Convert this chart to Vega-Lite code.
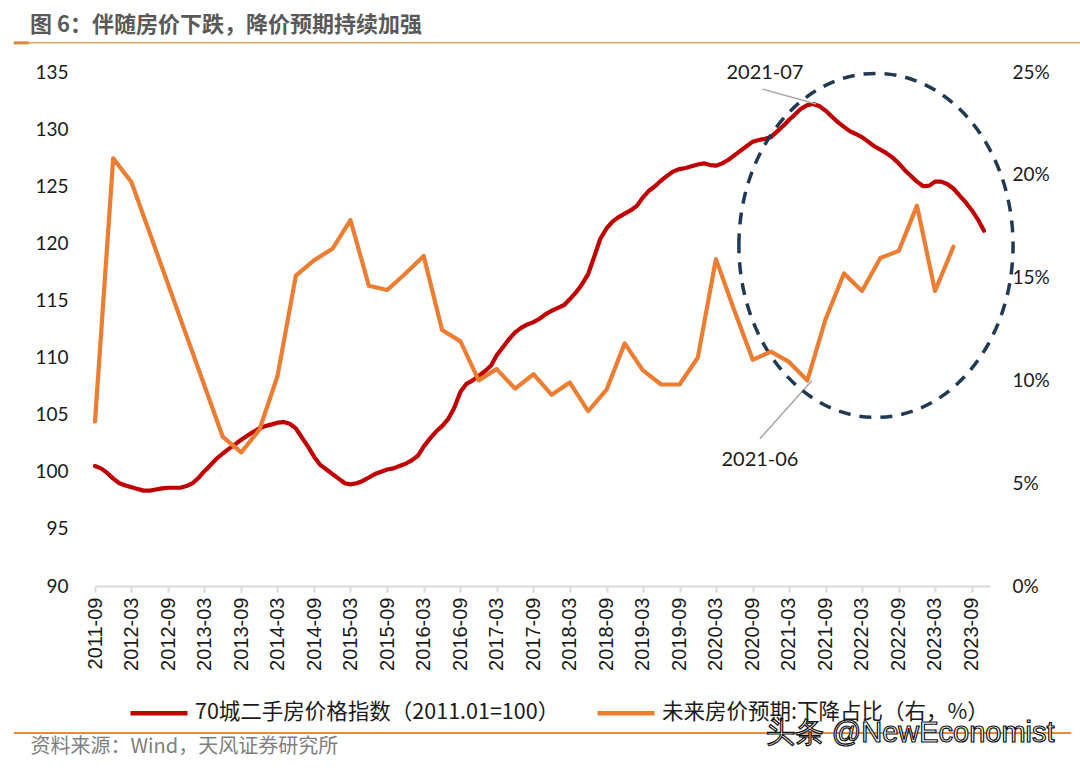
{
  "$schema": "https://vega.github.io/schema/vega-lite/v6.json",
  "width": 895,
  "height": 514,
  "autosize": {"type": "none"},
  "padding": {"left": 95, "top": 72, "right": 90, "bottom": 182},
  "background": "white",
  "title": {
    "text": "图 6：伴随房价下跌，降价预期持续加强",
    "anchor": "start",
    "frame": "group",
    "dx": -65,
    "offset": 4,
    "font": "Noto Sans CJK SC",
    "fontSize": 22,
    "fontWeight": "bold",
    "color": "#595959"
  },
  "config": {
    "view": {"stroke": null},
    "axis": {"grid": false},
    "axisX": {"labelOverlap": false, "labelBound": false, "labelFlush": false, "tickCount": 60},
    "legend": {
      "orient": "none",
      "legendX": 33,
      "legendY": 610,
      "direction": "horizontal",
      "symbolType": "stroke",
      "symbolSize": 3249,
      "symbolStrokeWidth": 4.5,
      "labelFont": "Noto Sans CJK SC",
      "labelFontSize": 21.5,
      "labelColor": "#1a1a1a",
      "labelLimit": 600,
      "labelOffset": 5,
      "columnPadding": 28,
      "padding": 0
    }
  },
  "datasets": {
    "red": [
      {"date": "2011-09-01", "value": 100.5}, {"date": "2011-10-01", "value": 100.3}, {"date": "2011-11-01", "value": 99.9}, {"date": "2011-12-01", "value": 99.4},
      {"date": "2012-01-01", "value": 99.0}, {"date": "2012-02-01", "value": 98.8}, {"date": "2012-03-01", "value": 98.65}, {"date": "2012-04-01", "value": 98.5},
      {"date": "2012-05-01", "value": 98.35}, {"date": "2012-06-01", "value": 98.35}, {"date": "2012-07-01", "value": 98.45}, {"date": "2012-08-01", "value": 98.55},
      {"date": "2012-09-01", "value": 98.6}, {"date": "2012-10-01", "value": 98.6}, {"date": "2012-11-01", "value": 98.6}, {"date": "2012-12-01", "value": 98.75},
      {"date": "2013-01-01", "value": 99.0}, {"date": "2013-02-01", "value": 99.5}, {"date": "2013-03-01", "value": 100.05}, {"date": "2013-04-01", "value": 100.6},
      {"date": "2013-05-01", "value": 101.15}, {"date": "2013-06-01", "value": 101.6}, {"date": "2013-07-01", "value": 102.0}, {"date": "2013-08-01", "value": 102.4},
      {"date": "2013-09-01", "value": 102.8}, {"date": "2013-10-01", "value": 103.15}, {"date": "2013-11-01", "value": 103.5}, {"date": "2013-12-01", "value": 103.8},
      {"date": "2014-01-01", "value": 104.0}, {"date": "2014-02-01", "value": 104.15}, {"date": "2014-03-01", "value": 104.3}, {"date": "2014-04-01", "value": 104.35},
      {"date": "2014-05-01", "value": 104.2}, {"date": "2014-06-01", "value": 103.8}, {"date": "2014-07-01", "value": 103.0}, {"date": "2014-08-01", "value": 102.2},
      {"date": "2014-09-01", "value": 101.3}, {"date": "2014-10-01", "value": 100.6}, {"date": "2014-11-01", "value": 100.2}, {"date": "2014-12-01", "value": 99.8},
      {"date": "2015-01-01", "value": 99.4}, {"date": "2015-02-01", "value": 99.0}, {"date": "2015-03-01", "value": 98.9}, {"date": "2015-04-01", "value": 99.0},
      {"date": "2015-05-01", "value": 99.2}, {"date": "2015-06-01", "value": 99.5}, {"date": "2015-07-01", "value": 99.8}, {"date": "2015-08-01", "value": 100.0},
      {"date": "2015-09-01", "value": 100.2}, {"date": "2015-10-01", "value": 100.3}, {"date": "2015-11-01", "value": 100.5}, {"date": "2015-12-01", "value": 100.7},
      {"date": "2016-01-01", "value": 101.0}, {"date": "2016-02-01", "value": 101.4}, {"date": "2016-03-01", "value": 102.2}, {"date": "2016-04-01", "value": 102.9},
      {"date": "2016-05-01", "value": 103.5}, {"date": "2016-06-01", "value": 104.0}, {"date": "2016-07-01", "value": 104.6}, {"date": "2016-08-01", "value": 105.6},
      {"date": "2016-09-01", "value": 107.0}, {"date": "2016-10-01", "value": 107.7}, {"date": "2016-11-01", "value": 108.0}, {"date": "2016-12-01", "value": 108.4},
      {"date": "2017-01-01", "value": 108.8}, {"date": "2017-02-01", "value": 109.3}, {"date": "2017-03-01", "value": 110.2}, {"date": "2017-04-01", "value": 110.9},
      {"date": "2017-05-01", "value": 111.6}, {"date": "2017-06-01", "value": 112.2}, {"date": "2017-07-01", "value": 112.6}, {"date": "2017-08-01", "value": 112.9},
      {"date": "2017-09-01", "value": 113.1}, {"date": "2017-10-01", "value": 113.4}, {"date": "2017-11-01", "value": 113.8}, {"date": "2017-12-01", "value": 114.1},
      {"date": "2018-01-01", "value": 114.35}, {"date": "2018-02-01", "value": 114.6}, {"date": "2018-03-01", "value": 115.1}, {"date": "2018-04-01", "value": 115.7},
      {"date": "2018-05-01", "value": 116.4}, {"date": "2018-06-01", "value": 117.3}, {"date": "2018-07-01", "value": 118.8}, {"date": "2018-08-01", "value": 120.4},
      {"date": "2018-09-01", "value": 121.3}, {"date": "2018-10-01", "value": 121.9}, {"date": "2018-11-01", "value": 122.3}, {"date": "2018-12-01", "value": 122.6},
      {"date": "2019-01-01", "value": 122.9}, {"date": "2019-02-01", "value": 123.3}, {"date": "2019-03-01", "value": 124.0}, {"date": "2019-04-01", "value": 124.6},
      {"date": "2019-05-01", "value": 125.0}, {"date": "2019-06-01", "value": 125.5}, {"date": "2019-07-01", "value": 125.9}, {"date": "2019-08-01", "value": 126.3},
      {"date": "2019-09-01", "value": 126.5}, {"date": "2019-10-01", "value": 126.6}, {"date": "2019-11-01", "value": 126.75}, {"date": "2019-12-01", "value": 126.9},
      {"date": "2020-01-01", "value": 127.0}, {"date": "2020-02-01", "value": 126.85}, {"date": "2020-03-01", "value": 126.8}, {"date": "2020-04-01", "value": 127.0},
      {"date": "2020-05-01", "value": 127.3}, {"date": "2020-06-01", "value": 127.7}, {"date": "2020-07-01", "value": 128.1}, {"date": "2020-08-01", "value": 128.5},
      {"date": "2020-09-01", "value": 128.9}, {"date": "2020-10-01", "value": 129.05}, {"date": "2020-11-01", "value": 129.15}, {"date": "2020-12-01", "value": 129.3},
      {"date": "2021-01-01", "value": 129.8}, {"date": "2021-02-01", "value": 130.3}, {"date": "2021-03-01", "value": 130.8}, {"date": "2021-04-01", "value": 131.3},
      {"date": "2021-05-01", "value": 131.8}, {"date": "2021-06-01", "value": 132.1}, {"date": "2021-07-01", "value": 132.2}, {"date": "2021-08-01", "value": 132.0},
      {"date": "2021-09-01", "value": 131.6}, {"date": "2021-10-01", "value": 131.1}, {"date": "2021-11-01", "value": 130.6}, {"date": "2021-12-01", "value": 130.2},
      {"date": "2022-01-01", "value": 129.8}, {"date": "2022-02-01", "value": 129.55}, {"date": "2022-03-01", "value": 129.3}, {"date": "2022-04-01", "value": 128.9},
      {"date": "2022-05-01", "value": 128.5}, {"date": "2022-06-01", "value": 128.2}, {"date": "2022-07-01", "value": 127.9}, {"date": "2022-08-01", "value": 127.5},
      {"date": "2022-09-01", "value": 127.0}, {"date": "2022-10-01", "value": 126.4}, {"date": "2022-11-01", "value": 125.9}, {"date": "2022-12-01", "value": 125.4},
      {"date": "2023-01-01", "value": 125.0}, {"date": "2023-02-01", "value": 125.05}, {"date": "2023-03-01", "value": 125.4}, {"date": "2023-04-01", "value": 125.4},
      {"date": "2023-05-01", "value": 125.2}, {"date": "2023-06-01", "value": 124.8}, {"date": "2023-07-01", "value": 124.2}, {"date": "2023-08-01", "value": 123.6},
      {"date": "2023-09-01", "value": 122.9}, {"date": "2023-10-01", "value": 122.1}, {"date": "2023-11-01", "value": 121.1}
    ],
    "orange": [
      {"date": "2011-09-01", "pct": 8.0}, {"date": "2011-12-01", "pct": 20.8}, {"date": "2012-03-01", "pct": 19.65},
      {"date": "2013-06-01", "pct": 7.25}, {"date": "2013-09-01", "pct": 6.5}, {"date": "2013-12-01", "pct": 7.6},
      {"date": "2014-03-01", "pct": 10.2}, {"date": "2014-06-01", "pct": 15.1}, {"date": "2014-09-01", "pct": 15.85}, {"date": "2014-12-01", "pct": 16.4},
      {"date": "2015-03-01", "pct": 17.8}, {"date": "2015-06-01", "pct": 14.6}, {"date": "2015-09-01", "pct": 14.4}, {"date": "2015-12-01", "pct": 15.2},
      {"date": "2016-03-01", "pct": 16.05}, {"date": "2016-06-01", "pct": 12.45}, {"date": "2016-09-01", "pct": 11.9}, {"date": "2016-12-01", "pct": 10.0},
      {"date": "2017-03-01", "pct": 10.55}, {"date": "2017-06-01", "pct": 9.6}, {"date": "2017-09-01", "pct": 10.3}, {"date": "2017-12-01", "pct": 9.3},
      {"date": "2018-03-01", "pct": 9.9}, {"date": "2018-06-01", "pct": 8.5}, {"date": "2018-09-01", "pct": 9.55}, {"date": "2018-12-01", "pct": 11.8},
      {"date": "2019-03-01", "pct": 10.5}, {"date": "2019-06-01", "pct": 9.8}, {"date": "2019-09-01", "pct": 9.8}, {"date": "2019-12-01", "pct": 11.1},
      {"date": "2020-03-01", "pct": 15.9}, {"date": "2020-06-01", "pct": 13.4}, {"date": "2020-09-01", "pct": 11.0}, {"date": "2020-12-01", "pct": 11.4},
      {"date": "2021-03-01", "pct": 10.9}, {"date": "2021-06-01", "pct": 10.0}, {"date": "2021-09-01", "pct": 13.0}, {"date": "2021-12-01", "pct": 15.2},
      {"date": "2022-03-01", "pct": 14.35}, {"date": "2022-06-01", "pct": 15.95}, {"date": "2022-09-01", "pct": 16.3}, {"date": "2022-12-01", "pct": 18.5},
      {"date": "2023-03-01", "pct": 14.35}, {"date": "2023-06-01", "pct": 16.5}
    ]
  },
  "layer": [
    {
      "layer": [
        {
          "data": {"name": "red"},
          "mark": {"type": "line", "strokeWidth": 4.2, "strokeJoin": "round", "strokeCap": "round"},
          "encoding": {
            "x": {
              "field": "date", "type": "temporal",
              "title": "资料来源：Wind，天风证券研究所",
              "scale": {"type": "utc", "domain": [{"year": 2011, "month": 9, "date": 1, "utc": true}, {"year": 2023, "month": 12, "date": 1, "utc": true}]},
              "axis": {
                "values": [
                  {"year": 2011, "month": 9, "date": 1, "utc": true}, {"year": 2012, "month": 3, "date": 1, "utc": true}, {"year": 2012, "month": 9, "date": 1, "utc": true},
                  {"year": 2013, "month": 3, "date": 1, "utc": true}, {"year": 2013, "month": 9, "date": 1, "utc": true}, {"year": 2014, "month": 3, "date": 1, "utc": true},
                  {"year": 2014, "month": 9, "date": 1, "utc": true}, {"year": 2015, "month": 3, "date": 1, "utc": true}, {"year": 2015, "month": 9, "date": 1, "utc": true},
                  {"year": 2016, "month": 3, "date": 1, "utc": true}, {"year": 2016, "month": 9, "date": 1, "utc": true}, {"year": 2017, "month": 3, "date": 1, "utc": true},
                  {"year": 2017, "month": 9, "date": 1, "utc": true}, {"year": 2018, "month": 3, "date": 1, "utc": true}, {"year": 2018, "month": 9, "date": 1, "utc": true},
                  {"year": 2019, "month": 3, "date": 1, "utc": true}, {"year": 2019, "month": 9, "date": 1, "utc": true}, {"year": 2020, "month": 3, "date": 1, "utc": true},
                  {"year": 2020, "month": 9, "date": 1, "utc": true}, {"year": 2021, "month": 3, "date": 1, "utc": true}, {"year": 2021, "month": 9, "date": 1, "utc": true},
                  {"year": 2022, "month": 3, "date": 1, "utc": true}, {"year": 2022, "month": 9, "date": 1, "utc": true}, {"year": 2023, "month": 3, "date": 1, "utc": true},
                  {"year": 2023, "month": 9, "date": 1, "utc": true}
                ],
                "tickCount": 60,
                "format": "%Y-%m",
                "labelAngle": -90,
                "labelFont": "Liberation Sans",
                "labelFontSize": 20,
                "labelColor": "#1a1a1a",
                "labelPadding": 5,
                "labelOverlap": false,
                "labelFlush": false,
                "domainColor": "#d9d9d9",
                "domainWidth": 2,
                "tickColor": "#d9d9d9",
                "tickWidth": 2,
                "tickSize": 6,
                "titleFont": "Noto Sans CJK SC",
                "titleFontSize": 20,
                "titleFontWeight": "normal",
                "titleColor": "#7f7f7f",
                "titleAlign": "left",
                "titleBaseline": "middle",
                "titleAngle": 0,
                "titleX": -65,
                "titleY": 160
              }
            },
            "y": {
              "field": "value", "type": "quantitative",
              "title": null,
              "scale": {"domain": [90, 135], "nice": false, "zero": false},
              "axis": {
                "orient": "left",
                "values": [90, 95, 100, 105, 110, 115, 120, 125, 130, 135],
                "tickCount": 20,
                "domain": false,
                "ticks": false,
                "labelFont": "Lato",
                "labelFontSize": 19,
                "labelColor": "#1a1a1a",
                "labelPadding": 27
              }
            },
            "color": {
              "datum": "70城二手房价格指数（2011.01=100）",
              "scale": {"domain": ["70城二手房价格指数（2011.01=100）", "未来房价预期:下降占比（右，%）"], "range": ["#c00000", "#ed7d31"]},
              "legend": {"title": null}
            }
          }
        },
        {
          "data": {"values": [{}]},
          "mark": {"type": "rule", "stroke": "#e3a55e", "strokeWidth": 1.5},
          "encoding": {
            "x": {"datum": {"year": 2010, "month": 7, "date": 22, "utc": true}, "type": "temporal", "title": "资料来源：Wind，天风证券研究所"},
            "x2": {"datum": {"year": 2025, "month": 2, "date": 25, "utc": true}},
            "y": {"datum": 137.55, "type": "quantitative", "title": null}
          }
        },
        {
          "data": {"values": [{}]},
          "mark": {"type": "rule", "stroke": "#d9883a", "strokeWidth": 3},
          "encoding": {
            "x": {"datum": {"year": 2010, "month": 7, "date": 22, "utc": true}, "type": "temporal", "title": "资料来源：Wind，天风证券研究所"},
            "x2": {"datum": {"year": 2010, "month": 10, "date": 5, "utc": true}},
            "y": {"datum": 137.55, "type": "quantitative", "title": null}
          }
        },
        {
          "data": {"values": [{}]},
          "mark": {"type": "rule", "stroke": "#e98b3a", "strokeWidth": 2},
          "encoding": {
            "x": {"datum": {"year": 2010, "month": 7, "date": 22, "utc": true}, "type": "temporal", "title": "资料来源：Wind，天风证券研究所"},
            "x2": {"datum": {"year": 2025, "month": 1, "date": 10, "utc": true}},
            "y": {"datum": 77.13, "type": "quantitative", "title": null}
          }
        },
        {
          "data": {"values": [{}]},
          "mark": {"type": "rule", "stroke": "#a6a6a6", "strokeWidth": 1.5},
          "encoding": {
            "x": {"datum": {"year": 2020, "month": 10, "date": 20, "utc": true}, "type": "temporal", "title": "资料来源：Wind，天风证券研究所"},
            "x2": {"datum": {"year": 2021, "month": 7, "date": 15, "utc": true}},
            "y": {"datum": 133.5, "type": "quantitative", "title": null},
            "y2": {"datum": 132.2}
          }
        },
        {
          "data": {"values": [{}]},
          "mark": {"type": "rule", "stroke": "#a6a6a6", "strokeWidth": 1.5},
          "encoding": {
            "x": {"datum": {"year": 2020, "month": 10, "date": 7, "utc": true}, "type": "temporal", "title": "资料来源：Wind，天风证券研究所"},
            "x2": {"datum": {"year": 2021, "month": 6, "date": 24, "utc": true}},
            "y": {"datum": 102.9, "type": "quantitative", "title": null},
            "y2": {"datum": 108.0}
          }
        },
        {
          "data": {"values": [{}]},
          "mark": {"type": "text", "font": "Lato", "fontSize": 20, "color": "#1a1a1a", "align": "center", "baseline": "middle", "text": "2021-07"},
          "encoding": {
            "x": {"datum": {"year": 2020, "month": 11, "date": 1, "utc": true}, "type": "temporal", "title": "资料来源：Wind，天风证券研究所"},
            "y": {"datum": 134.9, "type": "quantitative", "title": null}
          }
        },
        {
          "data": {"values": [{}]},
          "mark": {"type": "text", "font": "Lato", "fontSize": 20, "color": "#1a1a1a", "align": "center", "baseline": "middle", "text": "2021-06"},
          "encoding": {
            "x": {"datum": {"year": 2020, "month": 10, "date": 7, "utc": true}, "type": "temporal", "title": "资料来源：Wind，天风证券研究所"},
            "y": {"datum": 101.0, "type": "quantitative", "title": null}
          }
        },
        {
          "data": {"values": [{}]},
          "mark": {
            "type": "point",
            "shape": "M -0.797 0 C -0.797 -0.5523 -0.4402 -1 0 -1 C 0.4402 -1 0.797 -0.5523 0.797 0 C 0.797 0.5523 0.4402 1 0 1 C -0.4402 1 -0.797 0.5523 -0.797 0 Z",
            "size": 118336,
            "filled": false,
            "stroke": "#203a55",
            "strokeWidth": 3.5,
            "strokeDash": [12, 9],
            "opacity": 1
          },
          "encoding": {
            "x": {"datum": {"year": 2022, "month": 5, "date": 10, "utc": true}, "type": "temporal", "title": "资料来源：Wind，天风证券研究所"},
            "y": {"datum": 119.82, "type": "quantitative", "title": null}
          }
        },
        {
          "data": {"values": [{}]},
          "mark": {"type": "text", "font": "Liberation Sans", "fontSize": 29, "fill": "white", "stroke": "#111111", "strokeWidth": 1.2, "align": "center", "baseline": "middle", "text": "头条 @NewEconomist"},
          "encoding": {
            "x": {"datum": {"year": 2022, "month": 10, "date": 28, "utc": true}, "type": "temporal", "title": "资料来源：Wind，天风证券研究所"},
            "y": {"datum": 77.13, "type": "quantitative", "title": null}
          }
        }
      ]
    },
    {
      "data": {"name": "orange"},
      "mark": {"type": "line", "strokeWidth": 4.2, "strokeJoin": "round", "strokeCap": "round"},
      "encoding": {
        "x": {"field": "date", "type": "temporal", "title": "资料来源：Wind，天风证券研究所"},
        "y": {
          "field": "pct", "type": "quantitative",
          "title": null,
          "scale": {"domain": [0, 25], "nice": false},
          "axis": {
            "orient": "right",
            "values": [0, 5, 10, 15, 20, 25],
            "tickCount": 20,
            "labelExpr": "datum.value + '%'",
            "domain": false,
            "ticks": false,
            "labelFont": "Lato",
            "labelFontSize": 19,
            "labelColor": "#1a1a1a",
            "labelPadding": 22
          }
        },
        "color": {"datum": "未来房价预期:下降占比（右，%）"}
      }
    }
  ],
  "resolve": {"scale": {"y": "independent"}}
}
